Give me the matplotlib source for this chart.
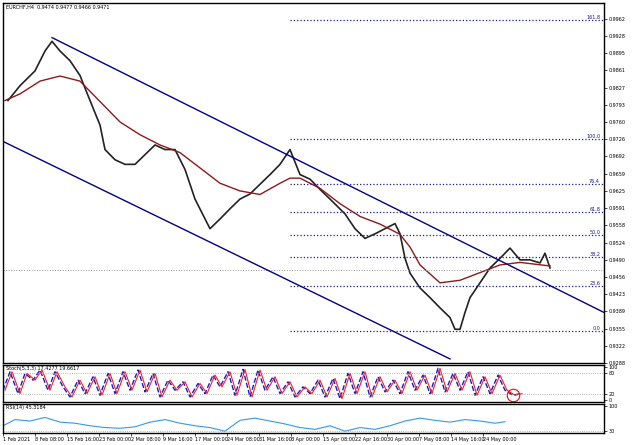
import numpy as np
import matplotlib.pyplot as plt

W, H = 640, 445

# price path (bar x, price)
px = [8, 20, 35, 45, 52, 60, 70, 80, 90, 100, 105, 115, 125, 135, 145, 155, 165, 175, 185, 195,
      210, 220, 230, 240, 250, 260, 270, 280, 290, 300, 310, 320, 330, 345, 355, 365, 375, 385,
      395, 400, 405, 410, 420, 430, 440, 450, 455, 460, 465, 470, 480, 490, 500, 510, 520, 530,
      540, 545, 550]
price = [0.9802, 0.9831, 0.9860, 0.9899, 0.9918, 0.9899, 0.9880, 0.9851, 0.9802, 0.9754,
         0.9706, 0.9686, 0.9677, 0.9677, 0.9696, 0.9715, 0.9706, 0.9706, 0.9667, 0.9609,
         0.9551, 0.9570, 0.9590, 0.9609, 0.9619, 0.9638, 0.9657, 0.9677, 0.9706, 0.9657,
         0.9648, 0.9628, 0.9609, 0.9580, 0.9551, 0.9532, 0.9541, 0.9551, 0.9561, 0.9541,
         0.9493, 0.9464, 0.9435, 0.9416, 0.9396, 0.9377, 0.9354, 0.9354, 0.9387, 0.9416,
         0.9445, 0.9474, 0.9493, 0.9513, 0.9490, 0.9490, 0.9484, 0.9503, 0.9474]
mx = [5, 20, 40, 60, 80, 100, 120, 140, 160, 180, 200, 220, 240, 260, 280, 290, 300, 320,
      340, 360, 380, 400, 410, 420, 440, 460, 480, 500, 520, 550]
ma = [0.9802, 0.9815, 0.9840, 0.9850, 0.9840, 0.9800, 0.9760, 0.9735, 0.9715, 0.9700,
      0.9670, 0.9640, 0.9625, 0.9618, 0.9640, 0.9650, 0.9650, 0.9630, 0.9600, 0.9575,
      0.9560, 0.9540, 0.9515, 0.9480, 0.9445, 0.9450, 0.9465, 0.9480, 0.9485, 0.9478]

fib_high, fib_low = 0.9727, 0.9351
fib_ratios = [1.618, 1.0, 0.764, 0.618, 0.5, 0.382, 0.236, 0.0]
fib_labels = ['161.8', '100.0', '76.4', '61.8', '50.0', '38.2', '23.6', '0.0']
current = 0.9471

stx = [3, 10, 18, 25, 33, 40, 48, 55, 63, 70, 78, 85, 93, 100, 108, 115, 123, 130, 138, 145,
       153, 160, 168, 175, 183, 190, 198, 205, 213, 220, 228, 235, 243, 250, 258, 265, 273, 280,
       288, 295, 303, 310, 318, 325, 333, 340, 348, 355, 363, 370, 378, 385, 393, 400, 408, 415,
       423, 430, 438, 445, 453, 460, 468, 475, 483, 490, 498, 505, 513, 520]
stoch = [30, 85, 20, 80, 60, 90, 30, 85, 40, 10, 60, 20, 70, 15, 80, 20, 85, 30, 90, 25,
         80, 10, 60, 30, 55, 10, 50, 20, 75, 40, 85, 15, 92, 10, 90, 30, 70, 20, 55, 10,
         40, 20, 60, 10, 65, 5, 80, 20, 85, 10, 70, 25, 60, 20, 85, 30, 75, 20, 95, 25,
         80, 30, 85, 15, 70, 20, 75, 30, 15, 20]
rx = [3, 15, 30, 45, 60, 75, 90, 105, 120, 135, 150, 165, 180, 195, 210, 225, 240, 255, 270,
      285, 300, 315, 330, 345, 360, 375, 390, 405, 420, 435, 450, 465, 480, 495, 505]
rsi = [45, 62, 58, 68, 55, 52, 45, 40, 38, 42, 55, 62, 52, 45, 40, 30, 60, 66, 58, 50,
       40, 35, 45, 30, 40, 35, 45, 58, 66, 60, 55, 62, 58, 52, 56]

dates = ['1 Feb 2021', '8 Feb 08:00', '15 Feb 16:00', '23 Feb 00:00', '2 Mar 08:00',
         '9 Mar 16:00', '17 Mar 00:00', '24 Mar 08:00', '31 Mar 16:00', '8 Apr 00:00',
         '15 Apr 08:00', '22 Apr 16:00', '30 Apr 00:00', '7 May 08:00', '14 May 16:00',
         '24 May 00:00']

ptop, pbot = 0.9962, 0.9356
def yp(y):
    return ptop - (y - 19) * (ptop - pbot) / 313

fig = plt.figure(figsize=(6.4, 4.45), dpi=100)
def box(x0, y0, x1, y1):
    return fig.add_axes([x0 / W, 1 - y1 / H, (x1 - x0) / W, (y1 - y0) / H])

ax = box(3, 3, 604, 363)
ax.set_xlim(3, 604)
ax.set_ylim(yp(363), yp(3))
ax.plot(px, price, color='#222222', lw=1.2)
ax.plot(mx, ma, color='#8b1a1a', lw=1)
for r, lb in zip(fib_ratios, fib_labels):
    lv = fib_low + r * (fib_high - fib_low)
    ax.plot([290, 604], [lv, lv], ls=':', color='#1a1a8c', lw=0.9)
    ax.text(600, lv, lb, fontsize=3.5, color='#1a1a8c', ha='right', va='bottom')
ax.axhline(current, ls=':', color='#999999', lw=0.7)
ax.plot([52, 604], [yp(38), yp(316)], color='#00008b', lw=1)
ax.plot([3, 450], [yp(143), yp(363)], color='#00008b', lw=1)
ticks = ptop - np.arange(21) * 0.00337
ax.yaxis.tick_right()
ax.set_yticks(ticks)
ax.set_yticklabels(['%.4f' % t for t in ticks], fontsize=3.5)
ax.set_xticks([])
ax.text(0.005, 0.995, 'EURCHF,H4  0.9474 0.9477 0.9466 0.9471', transform=ax.transAxes,
        fontsize=3.5, va='top')

ax2 = box(3, 365, 604, 402)
ax2.set_xlim(3, 604)
ax2.set_ylim(-5, 105)
ax2.plot(stx, stoch, color='#1a1acc', lw=1, ls='--')
ax2.plot([x + 2 for x in stx], stoch, color='#ee2222', lw=0.8)
for v in (80, 20):
    ax2.axhline(v, ls=':', color='#999999', lw=0.6)
ax2.plot([513], [15], 'o', ms=9, mfc='none', mec='red', mew=0.8)
ax2.yaxis.tick_right()
ax2.set_yticks([0, 20, 80, 100])
ax2.set_yticklabels(['0', '20', '80', '100'], fontsize=3.5)
ax2.set_xticks([])
ax2.text(0.005, 0.97, 'Stoch(5,3,3) 17.4277 19.6617', transform=ax2.transAxes, fontsize=3.5, va='top')

ax3 = box(3, 404, 604, 433)
ax3.set_xlim(3, 604)
ax3.set_ylim(25, 105)
ax3.plot(rx, rsi, color='#3399ee', lw=0.8)
ax3.axhline(30, ls=':', color='#999999', lw=0.6)
ax3.yaxis.tick_right()
ax3.set_yticks([30, 100])
ax3.set_yticklabels(['30', '100'], fontsize=3.5)
ax3.set_xticks(np.arange(len(dates)) * 32 + 3)
ax3.set_xticklabels(dates, fontsize=3.5, ha='left')
ax3.text(0.005, 0.95, 'RSI(14) 45.3184', transform=ax3.transAxes, fontsize=3.5, va='top')
for a in (ax, ax2, ax3):
    a.tick_params(length=2, pad=1, width=0.5)
    for s in a.spines.values():
        s.set_linewidth(1)

fig.savefig('out.png', dpi=100)
